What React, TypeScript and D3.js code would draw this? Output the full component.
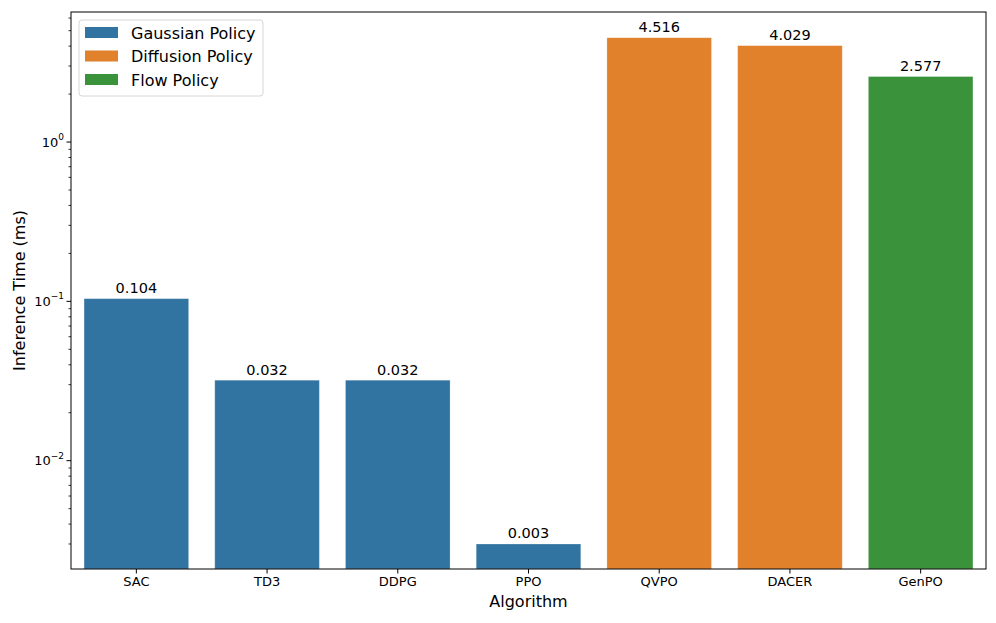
import React, { useEffect, useRef } from "react";
import * as d3 from "d3";

const algorithms = ["SAC", "TD3", "DDPG", "PPO", "QVPO", "DACER", "GenPO"];
const times = [0.104, 0.032, 0.032, 0.003, 4.516, 4.029, 2.577];
const labels = ["0.104", "0.032", "0.032", "0.003", "4.516", "4.029", "2.577"];
const groups = ["Gaussian Policy", "Gaussian Policy", "Gaussian Policy", "Gaussian Policy", "Diffusion Policy", "Diffusion Policy", "Flow Policy"];
const legendNames = ["Gaussian Policy", "Diffusion Policy", "Flow Policy"];
const legendColors = ["#3274a1", "#e1812c", "#3a923a"];
const majorTicks = [0.01, 0.1, 1];
const majorExp = ["−2", "−1", "0"];

export default function App() {
  const ref = useRef<SVGSVGElement>(null);

  useEffect(() => {
    const W = 996;
    const H = 623;
    const margin = { top: 12, right: 10, bottom: 54, left: 71 };
    const svg = d3.select(ref.current);
    svg.selectAll("*").remove();
    svg.attr("width", W).attr("height", H).attr("viewBox", `0 0 ${W} ${H}`);
    const font = "DejaVu Sans, sans-serif";

    const x = d3
      .scaleBand()
      .domain(algorithms)
      .range([margin.left, W - margin.right])
      .paddingInner(0.2)
      .paddingOuter(0.1);
    const y = d3
      .scaleLog()
      .domain([0.00209, 6.55])
      .range([H - margin.bottom, margin.top]);

    const color = d3.scaleOrdinal<string>().domain(legendNames).range(legendColors);

    // bars
    svg
      .append("g")
      .selectAll("rect")
      .data(algorithms)
      .enter()
      .append("rect")
      .attr("x", (d) => x(d)!)
      .attr("width", x.bandwidth())
      .attr("y", (d, i) => y(times[i]))
      .attr("height", (d, i) => y.range()[0] - y(times[i]))
      .attr("fill", (d, i) => color(groups[i]))
      .attr("stroke", "#fff")
      .attr("stroke-opacity", 0.3)
      .attr("stroke-width", 0.8);

    // value labels
    svg
      .append("g")
      .selectAll("text")
      .data(algorithms)
      .enter()
      .append("text")
      .attr("x", (d) => x(d)! + x.bandwidth() / 2)
      .attr("y", (d, i) => y(times[i]) - 5.5)
      .attr("text-anchor", "middle")
      .attr("font-family", font)
      .attr("font-size", 14.5)
      .attr("fill", "#000")
      .text((d, i) => labels[i]);

    // x axis
    const xAxis = svg
      .append("g")
      .attr("transform", `translate(0,${H - margin.bottom})`)
      .call(d3.axisBottom(x).tickSize(4.5).tickPadding(3.5));
    xAxis.select(".domain").remove();
    xAxis.selectAll("text").attr("font-family", font).attr("font-size", 13).attr("fill", "#000");
    xAxis.selectAll("line").attr("stroke", "#000").attr("stroke-width", 1);

    // y axis: major + minor
    const minor: number[] = [];
    for (let e = -3; e <= 0; e++) {
      for (let m = 2; m <= 9; m++) {
        const v = m * Math.pow(10, e);
        if (v >= y.domain()[0] && v <= y.domain()[1]) minor.push(v);
      }
    }
    const yg = svg.append("g");
    yg.selectAll(".minor")
      .data(minor)
      .enter()
      .append("line")
      .attr("x1", margin.left)
      .attr("x2", margin.left - 2.5)
      .attr("y1", (d) => y(d))
      .attr("y2", (d) => y(d))
      .attr("stroke", "#000")
      .attr("stroke-width", 0.8);
    yg.selectAll(".major")
      .data(majorTicks)
      .enter()
      .append("line")
      .attr("x1", margin.left)
      .attr("x2", margin.left - 4.5)
      .attr("y1", (d) => y(d))
      .attr("y2", (d) => y(d))
      .attr("stroke", "#000")
      .attr("stroke-width", 1);
    const tl = yg
      .selectAll(".lab")
      .data(majorTicks)
      .enter()
      .append("text")
      .attr("x", margin.left - 7)
      .attr("y", (d) => y(d) + 4.5)
      .attr("text-anchor", "end")
      .attr("font-family", font)
      .attr("font-size", 13)
      .attr("fill", "#000");
    tl.append("tspan").text("10");
    tl.append("tspan")
      .attr("dy", -6.5)
      .attr("font-size", 9)
      .text((d, i) => majorExp[i]);

    // spines
    const [x0, x1] = [margin.left, W - margin.right];
    const [y0, y1] = [margin.top, H - margin.bottom];
    svg
      .append("rect")
      .attr("x", x0)
      .attr("y", y0)
      .attr("width", x1 - x0)
      .attr("height", y1 - y0)
      .attr("fill", "none")
      .attr("stroke", "#000")
      .attr("stroke-width", 1);

    // axis titles
    svg
      .append("text")
      .attr("x", (x0 + x1) / 2)
      .attr("y", 607)
      .attr("text-anchor", "middle")
      .attr("font-family", font)
      .attr("font-size", 16)
      .attr("fill", "#000")
      .text("Algorithm");
    svg
      .append("text")
      .attr("transform", `translate(25,${(y0 + y1) / 2}) rotate(-90)`)
      .attr("text-anchor", "middle")
      .attr("font-family", font)
      .attr("font-size", 16)
      .attr("fill", "#000")
      .text("Inference Time (ms)");

    // legend
    const lg = svg.append("g").attr("transform", "translate(79,20)");
    lg.append("rect")
      .attr("width", 184)
      .attr("height", 76)
      .attr("rx", 3)
      .attr("fill", "#fff")
      .attr("fill-opacity", 0.8)
      .attr("stroke", "#d6d6d6");
    const items = lg
      .selectAll(".item")
      .data(legendNames)
      .enter()
      .append("g")
      .attr("transform", (d, i) => `translate(6,${13 + i * 23.5})`);
    items
      .append("rect")
      .attr("x", 0)
      .attr("y", -6)
      .attr("width", 33)
      .attr("height", 11)
      .attr("fill", (d) => color(d));
    items
      .append("text")
      .attr("x", 46)
      .attr("y", 5.5)
      .attr("font-family", font)
      .attr("font-size", 16)
      .attr("fill", "#000")
      .text((d) => d);
  }, []);

  return <svg ref={ref} style={{ position: "absolute", left: 0, top: 0 }} />;
}
